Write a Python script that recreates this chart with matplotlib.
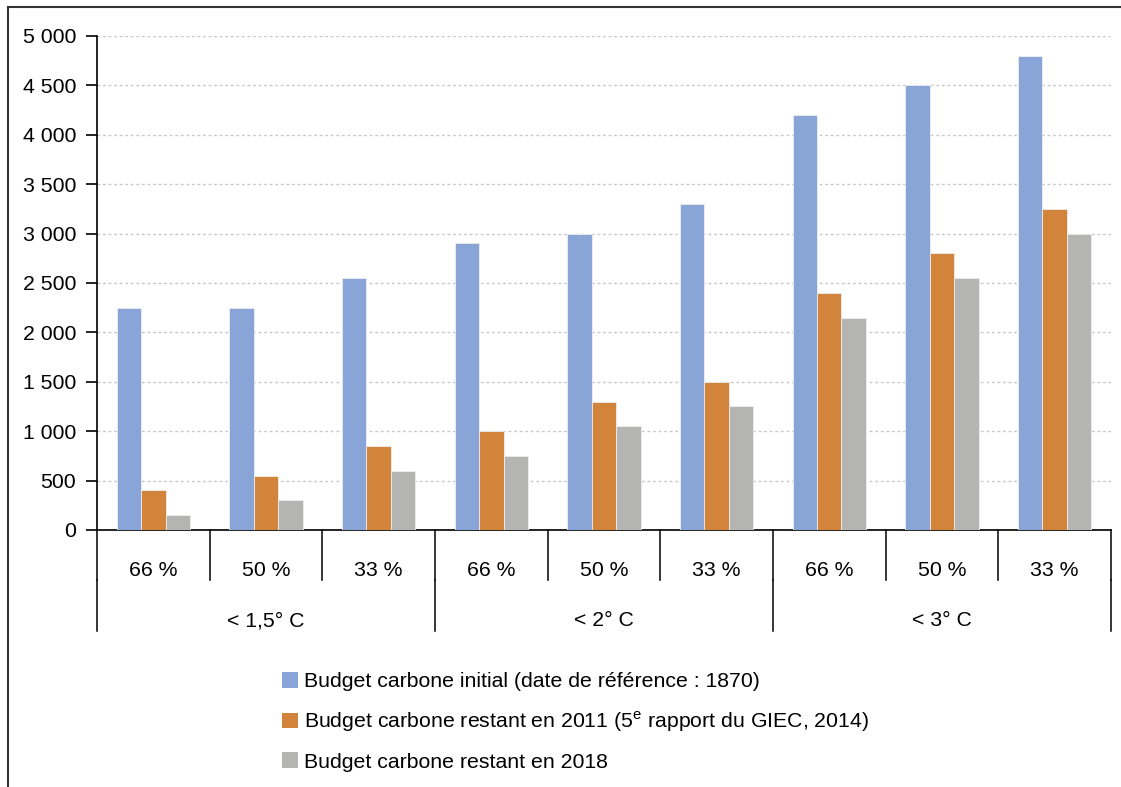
import matplotlib
matplotlib.use("Agg")
import matplotlib.pyplot as plt
from matplotlib.patches import Patch
from matplotlib.lines import Line2D
import numpy as np

plt.rcParams['font.family'] = ['Liberation Sans', 'DejaVu Sans']
plt.rcParams['mathtext.fontset'] = 'custom'
plt.rcParams['mathtext.rm'] = 'Liberation Sans'

# data
probas = ['66 %', '50 %', '33 %', '66 %', '50 %', '33 %', '66 %', '50 %', '33 %']
groups = ['< 1,5° C', '< 2° C', '< 3° C']
initial = [2250, 2250, 2550, 2900, 3000, 3300, 4200, 4500, 4800]
restant_2011 = [400, 550, 850, 1000, 1300, 1500, 2400, 2800, 3250]
restant_2018 = [150, 300, 600, 750, 1050, 1250, 2150, 2550, 3000]
yticks = [0, 500, 1000, 1500, 2000, 2500, 3000, 3500, 4000, 4500, 5000]
labels = ['Budget carbone initial (date de référence : 1870)',
          'Budget carbone restant en 2011 (5$^{\\mathrm{e}}$ rapport du GIEC, 2014)',
          'Budget carbone restant en 2018']
colors = ['#89a5d8', '#d1843a', '#b4b4b2']

fs = 15.3

fig = plt.figure(figsize=(11.21, 7.87), dpi=100)
ax = fig.add_axes([0.0865, 0.3266, 0.9045, 0.6277])

x = np.arange(len(probas))
w = 0.217
for i, vals in enumerate([initial, restant_2011, restant_2018]):
    ax.bar(x + (i - 1) * w, vals, w, color=colors[i], edgecolor='#eeeeee',
           linewidth=0.6, zorder=3)

ax.set_xlim(-0.5, len(probas) - 0.5)
ax.set_ylim(0, 5000)
ax.set_yticks(yticks)
ax.set_yticklabels([f'{v:,}'.replace(',', ' ') for v in yticks], fontsize=fs)
ax.tick_params(axis='y', length=8, width=1.2, pad=7)
ax.set_xticks([])
ax.yaxis.grid(True, linestyle=(0, (2, 2)), color='#c8c8c8', linewidth=1, zorder=0)
ax.spines['top'].set_visible(False)
ax.spines['right'].set_visible(False)
ax.spines['left'].set_linewidth(1.2)
ax.spines['bottom'].set_linewidth(1.2)

# category table under the axis
trans = ax.get_xaxis_transform()
for k in range(len(probas) + 1):
    ax.add_line(Line2D([k - 0.5, k - 0.5], [0, -0.102], transform=trans,
                       color='black', lw=1.1, clip_on=False))
for k, p in enumerate(probas):
    ax.text(k, -0.082, p, transform=trans, ha='center', va='center', fontsize=fs)
for g in range(len(groups) + 1):
    ax.add_line(Line2D([3 * g - 0.5, 3 * g - 0.5], [-0.102, -0.205], transform=trans,
                       color='black', lw=1.1, clip_on=False))
for g, name in enumerate(groups):
    ax.text(3 * g + 1, -0.184, name, transform=trans, ha='center', va='center',
            fontsize=fs)

# outer frame (only top and left visible in the picture)
fig.add_artist(Line2D([0.0071, 0.0071], [0, 0.9911], transform=fig.transFigure,
                      color='#333333', lw=1.5))
fig.add_artist(Line2D([0.0071, 1.0], [0.9911, 0.9911], transform=fig.transFigure,
                      color='#333333', lw=1.5))

handles = [Patch(facecolor=c, edgecolor='none') for c in colors]
fig.legend(handles, labels, loc='upper left', bbox_to_anchor=(0.244, 0.157),
           frameon=False, fontsize=fs, handlelength=0.75, handleheight=0.75,
           handletextpad=0.3, labelspacing=0.86, borderaxespad=0)

fig.savefig('out.png', dpi=100)
